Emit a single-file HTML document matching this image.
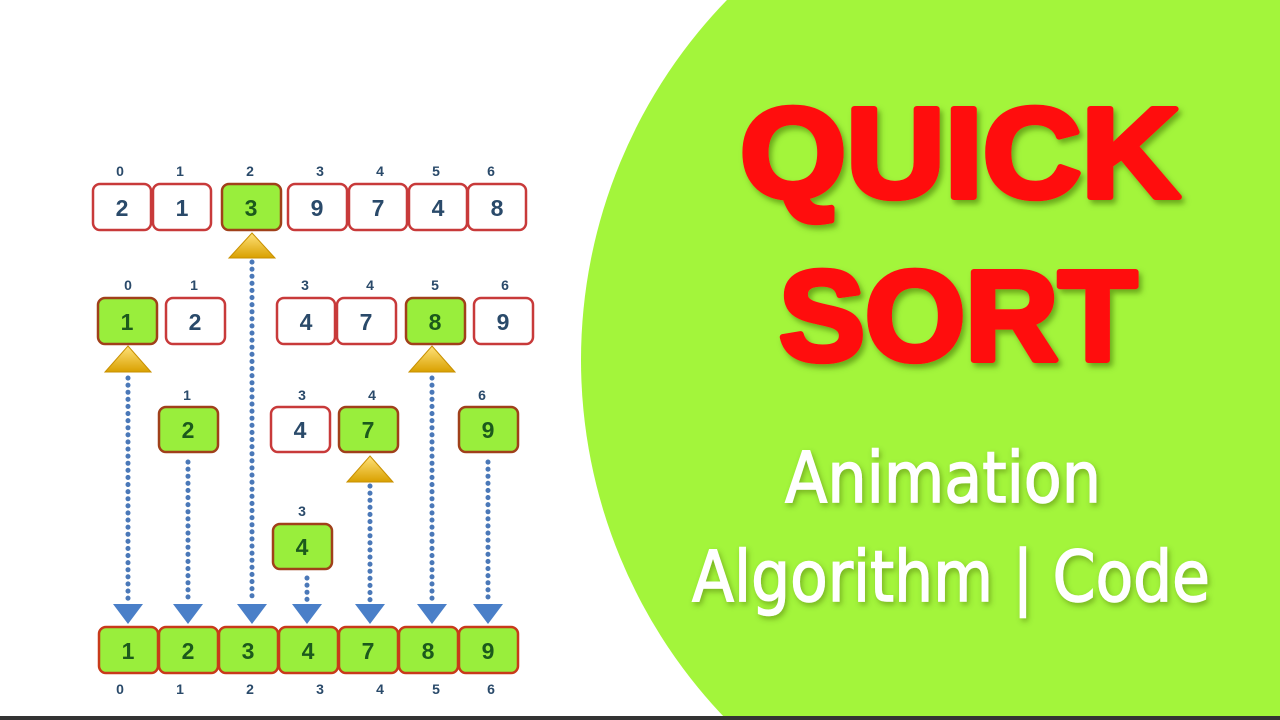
<!DOCTYPE html>
<html><head><meta charset="utf-8"><style>
html,body{margin:0;padding:0;background:#fff;width:1280px;height:720px;overflow:hidden;}
svg{display:block;}
</style></head><body>
<svg width="1280" height="720" viewBox="0 0 1280 720" xmlns="http://www.w3.org/2000/svg">
<defs>
<linearGradient id="gold" x1="0" y1="0" x2="0" y2="1"><stop offset="0" stop-color="#ffe27a"/><stop offset="1" stop-color="#d9a000"/></linearGradient>
<filter id="sh" x="-10%" y="-10%" width="130%" height="130%"><feDropShadow dx="3" dy="4" stdDeviation="3" flood-color="#3a6a00" flood-opacity="0.55"/></filter>
<filter id="sh2" x="-10%" y="-10%" width="130%" height="130%"><feDropShadow dx="2" dy="3" stdDeviation="3" flood-color="#406000" flood-opacity="0.45"/></filter>
</defs>
<rect width="1280" height="720" fill="#fff"/>
<circle cx="1098" cy="360" r="517" fill="#a3f53b"/>
<rect x="0" y="716" width="1280" height="4" fill="#333"/>

<g font-family="Liberation Sans, sans-serif" font-weight="bold" fill="#ff1010" stroke="#ff1010" stroke-width="6" stroke-linejoin="round" filter="url(#sh)">
<text x="960" y="197" font-size="128" text-anchor="middle" textLength="440" lengthAdjust="spacingAndGlyphs">QUICK</text>
<text x="958" y="360" font-size="128" text-anchor="middle" textLength="358" lengthAdjust="spacingAndGlyphs">SORT</text>
</g>
<g font-family="DejaVu Sans, sans-serif" fill="#fff" stroke="#fff" stroke-width="1.5" filter="url(#sh2)">
<text x="943" y="502" font-size="70" text-anchor="middle" textLength="316" lengthAdjust="spacingAndGlyphs">Animation</text>
<text x="951" y="601" font-size="70" text-anchor="middle" textLength="518" lengthAdjust="spacingAndGlyphs">Algorithm | Code</text>
</g>

<g stroke="#4a78b8" stroke-width="5" stroke-linecap="round" stroke-dasharray="0.1 7">
<line x1="128" y1="378" x2="128" y2="600"/>
<line x1="188" y1="462" x2="188" y2="600"/>
<line x1="252" y1="262" x2="252" y2="600"/>
<line x1="307" y1="578" x2="307" y2="600"/>
<line x1="370" y1="486" x2="370" y2="600"/>
<line x1="432" y1="378" x2="432" y2="600"/>
<line x1="488" y1="462" x2="488" y2="600"/>
</g>
<g fill="#4a7fc8">
<polygon points="113,604 143,604 128,624"/>
<polygon points="173,604 203,604 188,624"/>
<polygon points="237,604 267,604 252,624"/>
<polygon points="292,604 322,604 307,624"/>
<polygon points="355,604 385,604 370,624"/>
<polygon points="417,604 447,604 432,624"/>
<polygon points="473,604 503,604 488,624"/>
</g>
<g fill="url(#gold)" stroke="#c89000" stroke-width="1">
<polygon points="252,233 275,258 229,258"/>
<polygon points="128,346 151,372 105,372"/>
<polygon points="432,346 455,372 409,372"/>
<polygon points="370,456 393,482 347,482"/>
</g>

<g font-family="Liberation Sans, sans-serif" font-weight="bold" text-anchor="middle">
<g stroke-width="2.5">
<rect x="93" y="184" width="58" height="46" rx="7" fill="#fff" stroke="#c83a3a"/>
<rect x="153" y="184" width="58" height="46" rx="7" fill="#fff" stroke="#c83a3a"/>
<rect x="222" y="184" width="59" height="46" rx="7" fill="#99ee3c" stroke="#a0401a"/>
<rect x="288" y="184" width="59" height="46" rx="7" fill="#fff" stroke="#c83a3a"/>
<rect x="349" y="184" width="58" height="46" rx="7" fill="#fff" stroke="#c83a3a"/>
<rect x="409" y="184" width="58" height="46" rx="7" fill="#fff" stroke="#c83a3a"/>
<rect x="468" y="184" width="58" height="46" rx="7" fill="#fff" stroke="#c83a3a"/>
<rect x="98" y="298" width="59" height="46" rx="7" fill="#99ee3c" stroke="#a0401a"/>
<rect x="166" y="298" width="59" height="46" rx="7" fill="#fff" stroke="#c83a3a"/>
<rect x="277" y="298" width="58" height="46" rx="7" fill="#fff" stroke="#c83a3a"/>
<rect x="337" y="298" width="59" height="46" rx="7" fill="#fff" stroke="#c83a3a"/>
<rect x="406" y="298" width="59" height="46" rx="7" fill="#99ee3c" stroke="#a0401a"/>
<rect x="474" y="298" width="59" height="46" rx="7" fill="#fff" stroke="#c83a3a"/>
<rect x="159" y="407" width="59" height="45" rx="7" fill="#99ee3c" stroke="#a0401a"/>
<rect x="271" y="407" width="59" height="45" rx="7" fill="#fff" stroke="#c83a3a"/>
<rect x="339" y="407" width="59" height="45" rx="7" fill="#99ee3c" stroke="#a0401a"/>
<rect x="459" y="407" width="59" height="45" rx="7" fill="#99ee3c" stroke="#a0401a"/>
<rect x="273" y="524" width="59" height="45" rx="7" fill="#99ee3c" stroke="#a0401a"/>
<rect x="99" y="627" width="59" height="46" rx="7" fill="#99ee3c" stroke="#c83a1a"/>
<rect x="159" y="627" width="59" height="46" rx="7" fill="#99ee3c" stroke="#c83a1a"/>
<rect x="219" y="627" width="59" height="46" rx="7" fill="#99ee3c" stroke="#c83a1a"/>
<rect x="279" y="627" width="59" height="46" rx="7" fill="#99ee3c" stroke="#c83a1a"/>
<rect x="339" y="627" width="59" height="46" rx="7" fill="#99ee3c" stroke="#c83a1a"/>
<rect x="399" y="627" width="59" height="46" rx="7" fill="#99ee3c" stroke="#c83a1a"/>
<rect x="459" y="627" width="59" height="46" rx="7" fill="#99ee3c" stroke="#c83a1a"/>
</g>
<g font-size="23" fill="#2a4a6a">
<text x="122" y="216">2</text><text x="182" y="216">1</text><text x="251" y="216" fill="#1c5a1c">3</text>
<text x="317" y="216">9</text><text x="378" y="216">7</text><text x="438" y="216">4</text><text x="497" y="216">8</text>
<text x="127" y="330" fill="#1c5a1c">1</text><text x="195" y="330">2</text><text x="306" y="330">4</text>
<text x="366" y="330">7</text><text x="435" y="330" fill="#1c5a1c">8</text><text x="503" y="330">9</text>
<text x="188" y="438" fill="#1c5a1c">2</text><text x="300" y="438">4</text><text x="368" y="438" fill="#1c5a1c">7</text><text x="488" y="438" fill="#1c5a1c">9</text>
<text x="302" y="555" fill="#1c5a1c">4</text>
<g fill="#1c5a1c">
<text x="128" y="659">1</text><text x="188" y="659">2</text><text x="248" y="659">3</text><text x="308" y="659">4</text>
<text x="368" y="659">7</text><text x="428" y="659">8</text><text x="488" y="659">9</text>
</g>
</g>
<g font-size="14" fill="#2a4a6a">
<text x="120" y="176">0</text><text x="180" y="176">1</text><text x="250" y="176">2</text><text x="320" y="176">3</text><text x="380" y="176">4</text><text x="436" y="176">5</text><text x="491" y="176">6</text>
<text x="128" y="290">0</text><text x="194" y="290">1</text><text x="305" y="290">3</text><text x="370" y="290">4</text><text x="435" y="290">5</text><text x="505" y="290">6</text>
<text x="187" y="400">1</text><text x="302" y="400">3</text><text x="372" y="400">4</text><text x="482" y="400">6</text>
<text x="302" y="516">3</text>
<text x="120" y="694">0</text><text x="180" y="694">1</text><text x="250" y="694">2</text><text x="320" y="694">3</text><text x="380" y="694">4</text><text x="436" y="694">5</text><text x="491" y="694">6</text>
</g>
</g>
</svg>
</body></html>
